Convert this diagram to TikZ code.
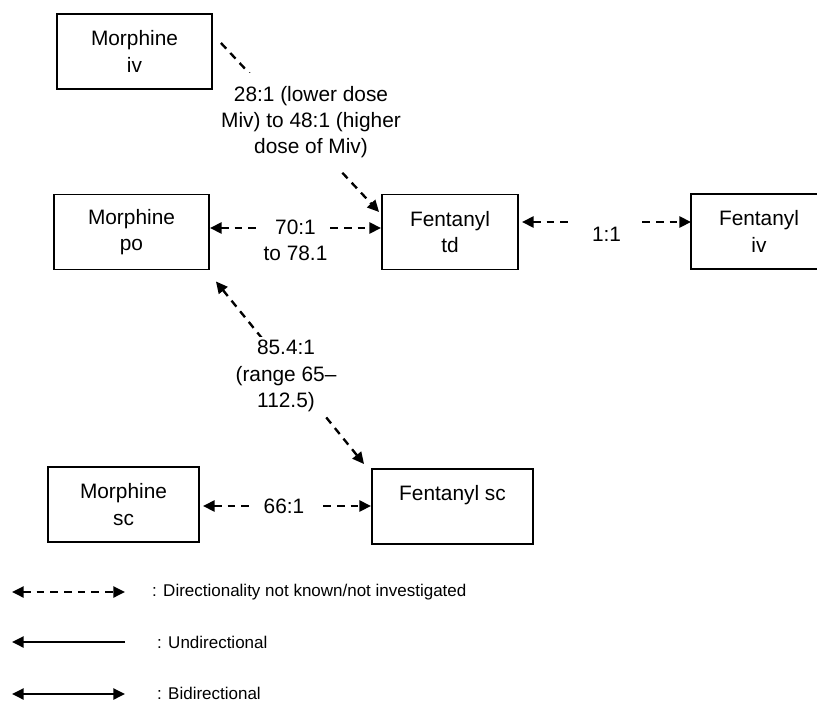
\documentclass[tikz,border=0pt]{standalone}
\usepackage{fontspec}
\setmainfont{Liberation Sans}
\usetikzlibrary{arrows.meta,calc}

\begin{document}
\begin{tikzpicture}[x=0.03cm, y=-0.03cm, >={Triangle[length=0.35cm, width=0.33cm]},
    font=\fontsize{17.8pt}{22.5pt}\selectfont,
    drug/.style={draw, line width=1.6pt, minimum width=4.65cm, minimum height=2.25cm, align=center, inner sep=0pt},
    link/.style={line width=2pt, dash pattern=on 0.23cm off 0.18cm},
    ratio/.style={fill=white, align=center, inner xsep=0.08cm, inner ysep=0.1cm},
    legend/.style={anchor=west, inner sep=0pt, font=\fontsize{14.5pt}{17pt}\selectfont}]

  \useasboundingbox (0,0) rectangle (817,702);

  % Boxes
  \node[drug] (miv) at (134.5, 51.5) {Morphine\\iv};
  \node[drug] (mpo) at (131.5, 232) {Morphine\\po};
  \node[drug, minimum width=4.08cm] (ftd) at (450, 232) {Fentanyl\\td};
  \node[drug, minimum width=4.08cm] (fiv) at (759, 231.5) {Fentanyl\\iv};
  \node[drug, minimum width=4.53cm] (msc) at (123.5, 504.5) {Morphine\\sc};
  \node[drug, minimum width=4.83cm] (fsc) at (452.5, 506.5) {Fentanyl sc\\\mbox{}};

  % Morphine iv to Fentanyl td
  \draw[link, ->] ($(miv.east)+(8,-8.5)$) --
    node[ratio, inner ysep=0.4cm, xshift=0.33cm, yshift=0.16cm] {28:1 (lower dose\\Miv) to 48:1 (higher\\dose of Miv)}
    ($(ftd.west)+(-2,-20)$);

  % Morphine po -- Fentanyl td
  \draw[link, <->] ($(mpo.east)+(0,-4)$) --
    node[ratio, yshift=-0.36cm] {70:1\\to 78.1}
    ($(ftd.west)+(0,-4)$);

  % Fentanyl td -- Fentanyl iv
  \draw[link, <->] ($(ftd.east)+(3,-10)$) --
    node[ratio, minimum width=2.1cm, inner ysep=0.22cm, yshift=-0.36cm] {1:1}
    ($(fiv.west)+(1,-9.5)$);

  % Morphine po -- Fentanyl sc
  \draw[link, <->] ($(mpo.south east)+(6,11)$) --
    node[ratio, xshift=-0.12cm, yshift=-0.1cm] {85.4:1\\(range 65--\\112.5)}
    ($(fsc.north west)+(-7,-4)$);

  % Morphine sc -- Fentanyl sc
  \draw[link, <->] ($(msc.east)+(3,1.5)$) --
    node[ratio, minimum width=2.05cm, xshift=-0.09cm] {66:1}
    ($(fsc.west)+(0,-0.5)$);

  % Legend
  \coordinate (k1) at (12, 592);  \coordinate (k2) at (125, 592);
  \coordinate (u1) at (12, 642);  \coordinate (u2) at (125, 642);
  \coordinate (b1) at (12, 694);  \coordinate (b2) at (125, 694);
  \draw[link, <->] (k1) -- (k2);
  \draw[line width=2pt, ->] (u2) -- (u1);
  \draw[line width=2pt, <->] (b1) -- (b2);
  \node[legend] (klbl) at (152, 592) {: Directionality not known/not investigated};
  \node[legend] (ulbl) at (157, 642) {: Undirectional};
  \node[legend] (blbl) at (157, 693) {: Bidirectional};

\end{tikzpicture}
\end{document}
